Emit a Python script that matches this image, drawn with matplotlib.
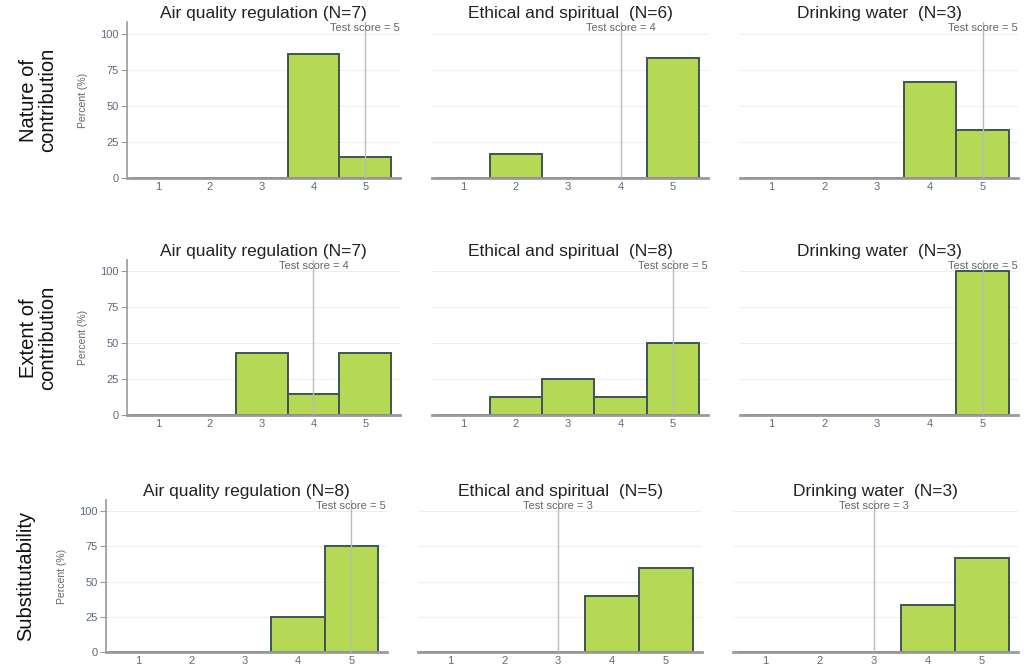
import matplotlib
matplotlib.use("Agg")
import matplotlib.pyplot as plt
import numpy as np

plt.rcParams["font.family"] = ["Liberation Sans", "DejaVu Sans"]

scores = [1, 2, 3, 4, 5]
row_labels = ["Nature of\ncontribution", "Extent of\ncontribution", "Substitutability"]

titles = [
    ["Air quality regulation (N=7)", "Ethical and spiritual  (N=6)", "Drinking water  (N=3)"],
    ["Air quality regulation (N=7)", "Ethical and spiritual  (N=8)", "Drinking water  (N=3)"],
    ["Air quality regulation (N=8)", "Ethical and spiritual  (N=5)", "Drinking water  (N=3)"],
]
test_scores = [[5, 4, 5], [4, 5, 5], [5, 3, 3]]

# percent per score 1..5
nature_air = [0, 0, 0, 85.7, 14.3]
nature_eth = [0, 16.7, 0, 0, 83.3]
nature_water = [0, 0, 0, 66.7, 33.3]
extent_air = [0, 0, 42.9, 14.3, 42.9]
extent_eth = [0, 12.5, 25, 12.5, 50]
extent_water = [0, 0, 0, 0, 100]
subst_air = [0, 0, 0, 25, 75]
subst_eth = [0, 0, 0, 40, 60]
subst_water = [0, 0, 0, 33.3, 66.7]

values = [
    [nature_air, nature_eth, nature_water],
    [extent_air, extent_eth, extent_water],
    [subst_air, subst_eth, subst_water],
]

W, H = 1028, 668
fig = plt.figure(figsize=(W / 100, H / 100), dpi=100)

# pixel boxes: (left, right, top, bottom)
boxes = [
    [(127, 400, 22, 178), (432, 708, 22, 178), (740, 1018, 22, 178)],
    [(127, 400, 260, 415), (432, 708, 260, 415), (740, 1018, 260, 415)],
    [(106, 387, 500, 652), (418, 702, 500, 652), (733, 1018, 500, 652)],
]
row_label_pos = [(38, 100), (38, 338), (26, 576)]

bar_color = "#b5d955"
edge_color = "#3f5552"
tick_color = "#5b6b80"
spine_color = "#9a9a9a"

for r in range(3):
    for c in range(3):
        l, rr, t, b = boxes[r][c]
        ax = fig.add_axes([l / W, 1 - b / H, (rr - l) / W, (b - t) / H])
        ax.bar(scores, values[r][c], width=1.0, color=bar_color,
               edgecolor=edge_color, linewidth=1.4, zorder=2)
        ax.set_xlim(0.4, 5.67)
        ax.set_ylim(0, 108)
        ax.set_yticks([0, 25, 50, 75, 100])
        ax.set_xticks(scores)
        ax.grid(axis="y", color="#eeeeee", linewidth=0.8, zorder=0)
        ax.set_axisbelow(True)
        for s in ["top", "right"]:
            ax.spines[s].set_visible(False)
        ax.spines["bottom"].set_color(spine_color)
        ax.spines["bottom"].set_linewidth(2)
        ax.tick_params(axis="x", length=0, labelsize=8, labelcolor=tick_color, pad=3)
        if c == 0:
            ax.spines["left"].set_color(spine_color)
            ax.spines["left"].set_linewidth(1.2)
            ax.tick_params(axis="y", length=4, color=spine_color, labelsize=8,
                           labelcolor=tick_color, pad=2)
            ax.set_ylabel("Percent (%)", fontsize=7.5, color="#666666", labelpad=9)
        else:
            ax.spines["left"].set_visible(False)
            ax.tick_params(axis="y", length=0, labelleft=False)
        ts = test_scores[r][c]
        ax.axvline(ts, color="#bbbbbb", linewidth=1, zorder=3)
        ax.text(ts, 104, f"Test score = {ts}", ha="center", va="center",
                fontsize=8, color="#666666", zorder=4)
        ax.set_title(titles[r][c], fontsize=12.5, color="#222222", pad=3)
    x, y = row_label_pos[r]
    fig.text(x / W, 1 - y / H, row_labels[r], rotation=90, ha="center", va="center",
             fontsize=14.5, color="#111111", linespacing=0.95)

fig.savefig("out.png", dpi=100)
